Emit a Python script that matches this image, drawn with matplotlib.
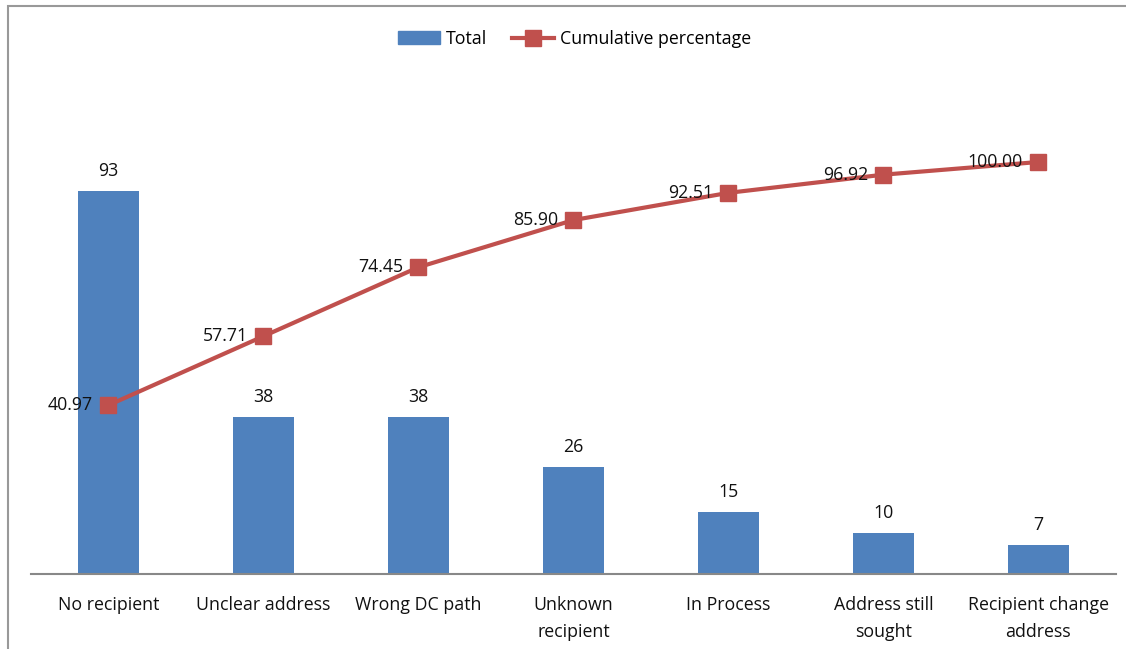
import matplotlib
matplotlib.use("Agg")
import matplotlib.pyplot as plt
from matplotlib.patches import Rectangle
from matplotlib.lines import Line2D
from matplotlib.patches import Patch

plt.rcParams['font.family'] = ['Open Sans', 'DejaVu Sans']

categories = ["No recipient", "Unclear address", "Wrong DC path", "Unknown\nrecipient",
              "In Process", "Address still\nsought", "Recipient change\naddress"]
totals = [93, 38, 38, 26, 15, 10, 7]
cumulative = [40.97, 57.71, 74.45, 85.90, 92.51, 96.92, 100.00]

bar_color = '#4F81BD'
line_color = '#C0504D'
f_size = 12.8

fig = plt.figure(figsize=(11.26, 6.49), dpi=100)
ax = fig.add_axes([0.0275, 0.1156, 0.9635, 0.7935])

x = list(range(len(categories)))
ax.bar(x, totals, width=0.39, color=bar_color, zorder=2)
ax.plot(x, cumulative, color=line_color, lw=3, marker='s', markersize=11, zorder=3)

# value labels
for xi, v in zip(x, totals):
    ax.annotate(str(v), (xi, v), xytext=(0, 8), textcoords='offset points',
                ha='center', va='bottom', fontsize=f_size, color='#111111')
for xi, v in zip(x, cumulative):
    ax.annotate("%.2f" % v, (xi, v), xytext=(-11, 0), textcoords='offset points',
                ha='right', va='center', fontsize=f_size, color='#111111', zorder=4)

ax.set_xlim(-0.5, 6.5)
ax.set_ylim(0, 125)
ax.set_xticks(x)
ax.set_xticklabels(categories, fontsize=f_size, color='#111111', linespacing=1.6)
ax.tick_params(axis='x', length=0, pad=16)
ax.set_yticks([])
for s in ['top', 'right', 'left']:
    ax.spines[s].set_visible(False)
ax.spines['bottom'].set_color('#888888')
ax.spines['bottom'].set_linewidth(1.5)

handles = [Patch(color=bar_color, label='Total'),
           Line2D([0], [0], color=line_color, lw=3, marker='s', markersize=11,
                  label='Cumulative percentage')]
fig.legend(handles=handles, loc='center', bbox_to_anchor=(0.51, 0.94), ncol=2,
           frameon=False, fontsize=f_size, handlelength=2.4, handletextpad=0.3,
           columnspacing=1.4)

# chart border (partly cut off in the original)
fig.patches.append(Rectangle((0.007, -0.05), 1.1, 1.04, transform=fig.transFigure,
                             fill=False, edgecolor='#999999', lw=1.5))

fig.savefig("out.png", dpi=100)
